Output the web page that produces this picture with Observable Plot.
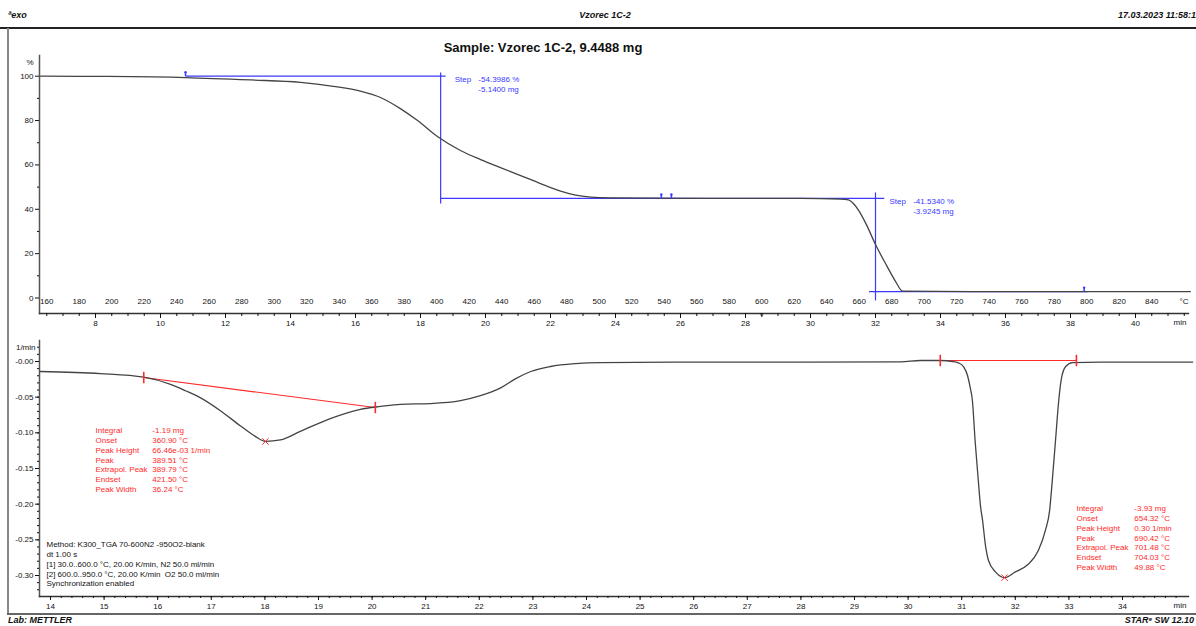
<!DOCTYPE html>
<html><head><meta charset="utf-8">
<script src="https://cdn.jsdelivr.net/npm/d3@7"></script>
<script src="https://cdn.jsdelivr.net/npm/@observablehq/plot@0.6"></script>
<style>
html,body{margin:0;padding:0;width:1196px;height:626px;overflow:hidden;background:#fff;font-family:"Liberation Sans",Arial,sans-serif;}
#page{position:relative;width:1196px;height:626px;overflow:hidden;}
#page svg{position:absolute;left:0;top:0;}
.hdr{position:absolute;font-weight:bold;font-style:italic;font-size:9px;color:#111;white-space:nowrap;line-height:9px;}
.ln{position:absolute;}
#title{position:absolute;left:0;width:1086px;text-align:center;top:40px;font-weight:bold;font-size:13px;color:#111;}
</style></head><body><div id="page">
<div class="ln" style="left:0;top:27px;width:1196px;height:2px;background:#222"></div>
<div class="ln" style="left:7px;top:28px;width:2px;height:586px;background:#888"></div>
<div class="ln" style="left:7px;top:613px;width:1189px;height:2px;background:#666"></div>
<div class="hdr" style="left:8px;top:11px">ªexo</div>
<div class="hdr" style="left:505px;width:200px;text-align:center;top:11px">Vzorec 1C-2</div>
<div class="hdr" style="right:0px;top:11px">17.03.2023 11:58:1</div>
<div class="hdr" style="left:8px;top:616px">Lab: METTLER</div>
<div class="hdr" style="right:2px;top:616px">STAR<span style="font-size:6px;vertical-align:top;line-height:6px">e</span> SW 12.10</div>
<div id="title">Sample: Vzorec 1C-2, 9.4488 mg</div>
</div>
<script>
// ---------- data ----------
const tgaTime = [6.31, 8.15, 10.77, 12.77, 14.31, 15.32, 16.15, 16.77, 17.38, 17.91, 18.52, 19.23, 19.85, 20.46, 21.08, 21.69, 22.31, 22.77, 23.23, 23.85, 26.62, 29.69, 30.92, 31.17, 31.32, 31.48, 31.72, 32.0, 32.34, 32.62, 32.83, 35.85, 41.69];
const tgaPercent = [100, 99.9, 99.4, 98.3, 97.2, 95.4, 93.3, 90.4, 85.4, 80.0, 72.8, 66.5, 62.4, 58.8, 55.2, 51.6, 48.2, 46.4, 45.5, 45.1, 44.9, 44.9, 44.6, 44.2, 42.6, 39.5, 33.1, 24.1, 14.7, 7.4, 3.1, 2.9, 2.9];

const dtgTime = [13.81, 14.93, 15.74, 16.24, 16.52, 16.80, 17.17, 17.54, 17.82, 18.01, 18.29, 18.66, 19.22, 19.78, 20.16, 20.53, 21.09, 21.65, 22.02, 22.40, 22.68, 22.96, 23.33, 23.79, 24.26, 26.13, 28.0, 29.86, 30.23, 30.60, 30.83, 30.94, 31.03, 31.11, 31.16, 31.20, 31.25, 31.31, 31.35, 31.39, 31.44, 31.50, 31.63, 31.80, 32.0, 32.23, 32.43, 32.56, 32.64, 32.69, 32.75, 32.81, 32.86, 32.94, 33.07, 33.59, 35.31];
const dtgRate = [-0.014, -0.017, -0.022, -0.032, -0.041, -0.051, -0.069, -0.090, -0.105, -0.112, -0.110, -0.098, -0.080, -0.067, -0.063, -0.060, -0.059, -0.055, -0.048, -0.037, -0.024, -0.014, -0.007, -0.003, -0.0015, -0.0008, -0.0008, -0.0005, 0.0014, 0.0014, 0, -0.002, -0.007, -0.020, -0.037, -0.055, -0.111, -0.167, -0.202, -0.223, -0.256, -0.279, -0.295, -0.303, -0.295, -0.285, -0.265, -0.237, -0.209, -0.167, -0.111, -0.055, -0.024, -0.007, -0.0015, -0.0008, -0.0008];

const pctTicks = [0, 20, 40, 60, 80, 100];
const pctMinor = [10, 30, 50, 70, 90];
const timeTopTicks = d3.range(8, 41, 2);
const timeTopMinor = d3.range(6.5, 41.6, 0.5);
const tempLabels = d3.range(160, 841, 20);
const rateTicks = [0, -0.05, -0.10, -0.15, -0.20, -0.25, -0.30];
const rateMinor = d3.range(2, -33, -1).map(d => d / 100);
const timeBottomTicks = d3.range(14, 35, 1);
const timeBottomMinor = d3.range(70, 176, 1).map(d => d / 5);

// step evaluation (time min, percent)
const stepLevels = [100, 44.9, 2.9];
const stepTimes = [18.62, 32.0];
const stepPercentText = ["-54.3986 %", "-41.5340 %"];
const stepMassText = ["-5.1400 mg", "-3.9245 mg"];
const stepLimitTimes = [10.77, 25.41, 25.72, 38.42];
const stepLimitLevels = [100, 44.9, 44.9, 2.9];

// peak evaluations (time min, 1/min)
const baselineTimes = [[15.74, 20.06], [30.60, 33.14]];
const baselineRates = [[-0.0225, -0.0645], [0.0014, 0.0014]];
const peakTimes = [18.01, 31.80];
const peakRates = [-0.112, -0.303];
const evalLabels = ["Integral", "Onset", "Peak Height", "Peak", "Extrapol. Peak", "Endset", "Peak Width"];
const eval1Values = ["-1.19 mg", "360.90 °C", "66.46e-03 1/min", "389.51 °C", "389.79 °C", "421.50 °C", "36.24 °C"];
const eval2Values = ["-3.93 mg", "654.32 °C", "0.30 1/min", "690.42 °C", "701.48 °C", "704.03 °C", "49.88 °C"];
const methodLines = ["Method: K300_TGA 70-600N2 -950O2-blank", "dt 1.00 s", "[1] 30.0..600.0 °C, 20.00 K/min, N2 50.0 ml/min", "[2] 600.0..950.0 °C, 20.00 K/min  O2 50.0 ml/min", "Synchronization enabled"];

// ---------- styles ----------
const BLUE = "#3a3aff", RED = "#ff2a2a", CURVE = "#444";
const FONT = "Liberation Sans, Arial, sans-serif";
const baseStyle = {fontFamily: FONT, fontSize: "8px", color: "#111", background: "transparent", overflow: "visible"};

const tga = tgaTime.map((t, i) => ({t, p: tgaPercent[i]}));
const dtg = dtgTime.map((t, i) => ({t, r: dtgRate[i]}));

const stepSegs = [
  {x1: stepLimitTimes[0], x2: 18.77, y1: stepLevels[0], y2: stepLevels[0]},
  {x1: stepTimes[0], x2: stepTimes[0], y1: 101.7, y2: 42.6},
  {x1: stepTimes[0], x2: 32.27, y1: stepLevels[1], y2: stepLevels[1]},
  {x1: stepTimes[1], x2: stepTimes[1], y1: 47.6, y2: -1.1},
  {x1: 31.8, x2: 38.52, y1: stepLevels[2], y2: stepLevels[2]}
];
const limits = stepLimitTimes.map((t, i) => ({t, p: stepLimitLevels[i]}));

const topPlot = Plot.plot({
  width: 1196, height: 626,
  marginLeft: 39, marginRight: 8, marginTop: 55, marginBottom: 313,
  style: baseStyle,
  x: {domain: [8, 40], range: [95, 1135]},
  y: {domain: [0, 100], range: [297.5, 75.7]},
  marks: [
    Plot.frame({anchor: "left", stroke: "#555", strokeWidth: 1.5}),
    Plot.frame({anchor: "bottom", stroke: "#333", strokeWidth: 1.3}),
    Plot.axisY({ticks: pctTicks, tickSize: 4, tickPadding: 2, label: null, tickFormat: d => String(d)}),
    Plot.axisY({ticks: pctMinor, tickSize: 2, label: null, tickFormat: () => ""}),
    Plot.axisX({ticks: timeTopMinor, tickSize: 3, label: null, tickFormat: () => ""}),
    Plot.axisX({ticks: timeTopTicks, tickSize: 5, tickPadding: 2, label: null, tickFormat: d => String(d)}),
    Plot.text(tempLabels, {x: d => (d - 30) / 20, text: d => String(d), frameAnchor: "bottom", dy: -10}),
    Plot.text(["°C"], {frameAnchor: "bottom-right", dy: -10, dx: 0, text: d => d}),
    Plot.text(["min"], {frameAnchor: "bottom-right", dy: 11, dx: -2, text: d => d}),
    Plot.text(["%"], {frameAnchor: "top-left", dx: -6, dy: 4, textAnchor: "end", text: d => d}),
    Plot.text([600], {x: d => (d - 30) / 20, text: () => "v", frameAnchor: "bottom", dy: 3, fontSize: 7}),
    Plot.link(stepSegs, {x1: "x1", x2: "x2", y1: "y1", y2: "y2", stroke: BLUE, strokeWidth: 1.2}),
    Plot.line(tga, {x: "t", y: "p", stroke: CURVE, strokeWidth: 1.3, curve: "monotone-x"}),
    Plot.link(limits, {x1: "t", x2: "t", y1: "p", y2: d => d.p + 1.8, stroke: BLUE, strokeWidth: 1.5}),
    Plot.dot(limits, {x: "t", y: d => d.p + 1.8, r: 1.2, fill: BLUE}),
    Plot.text([0, 1], {x: i => stepTimes[i] + 0.43, y: i => [98.5, 43.6][i], text: () => "Step", fill: BLUE, textAnchor: "start", fontSize: 8}),
    Plot.text([0, 1], {x: i => stepTimes[i] + 1.16, y: i => [98.5, 43.6][i], text: i => stepPercentText[i], fill: BLUE, textAnchor: "start", fontSize: 8}),
    Plot.text([0, 1], {x: i => stepTimes[i] + 1.16, y: i => [94.1, 39.1][i], text: i => stepMassText[i], fill: BLUE, textAnchor: "start", fontSize: 8})
  ]
});

const baselines = baselineTimes.map((b, i) => ({x1: b[0], x2: b[1], y1: baselineRates[i][0], y2: baselineRates[i][1]}));
const limitPts = baselines.flatMap(b => [{t: b.x1, r: b.y1}, {t: b.x2, r: b.y2}]);
const peaks = peakTimes.map((t, i) => ({t, r: peakRates[i]}));
const evalText = {fill: RED, textAnchor: "start", lineAnchor: "top", lineHeight: 1.22, fontSize: 8};

const botPlot = Plot.plot({
  width: 1196, height: 626,
  marginLeft: 39, marginRight: 8, marginTop: 340, marginBottom: 30,
  style: baseStyle,
  x: {domain: [14, 34], range: [50, 1122]},
  y: {domain: [0, -0.30], range: [361, 575]},
  marks: [
    Plot.frame({anchor: "left", stroke: "#555", strokeWidth: 1.5}),
    Plot.frame({anchor: "bottom", stroke: "#333", strokeWidth: 1.3}),
    Plot.axisY({ticks: rateTicks, tickSize: 4, tickPadding: 2, label: null, tickFormat: d => (d <= 0 ? "-" : "") + Math.abs(d).toFixed(2)}),
    Plot.axisY({ticks: rateMinor, tickSize: 2, label: null, tickFormat: () => ""}),
    Plot.axisX({ticks: timeBottomMinor, tickSize: 2, label: null, tickFormat: () => ""}),
    Plot.axisX({ticks: timeBottomTicks, tickSize: 4, tickPadding: 3, label: null, tickFormat: d => String(d)}),
    Plot.text(["1/min"], {frameAnchor: "top-left", dx: -4, dy: 4, textAnchor: "end", text: d => d}),
    Plot.text(["min"], {frameAnchor: "bottom-right", dy: 11, dx: -2, text: d => d}),
    Plot.link(baselines, {x1: "x1", x2: "x2", y1: "y1", y2: "y2", stroke: RED, strokeWidth: 1.1}),
    Plot.line(dtg, {x: "t", y: "r", stroke: CURVE, strokeWidth: 1.3, curve: "monotone-x"}),
    Plot.link(limitPts, {x1: "t", x2: "t", y1: d => d.r + 0.008, y2: d => d.r - 0.008, stroke: RED, strokeWidth: 1.6}),
    Plot.dot(peaks, {x: "t", y: "r", symbol: "times", r: 3, stroke: RED, strokeWidth: 1}),
    Plot.text([evalLabels.join("\n")], {x: 14.84, y: -0.091, text: d => d, ...evalText}),
    Plot.text([eval1Values.join("\n")], {x: 15.90, y: -0.091, text: d => d, ...evalText}),
    Plot.text([evalLabels.join("\n")], {x: 33.14, y: -0.2003, text: d => d, ...evalText}),
    Plot.text([eval2Values.join("\n")], {x: 34.22, y: -0.2003, text: d => d, ...evalText}),
    Plot.text([methodLines.join("\n")], {x: 13.925, y: -0.2507, text: d => d, fill: "#111", textAnchor: "start", lineAnchor: "top", lineHeight: 1.22, fontSize: 8})
  ]
});

const page = document.getElementById("page");
page.appendChild(topPlot);
page.appendChild(botPlot);
</script>
</body></html>
